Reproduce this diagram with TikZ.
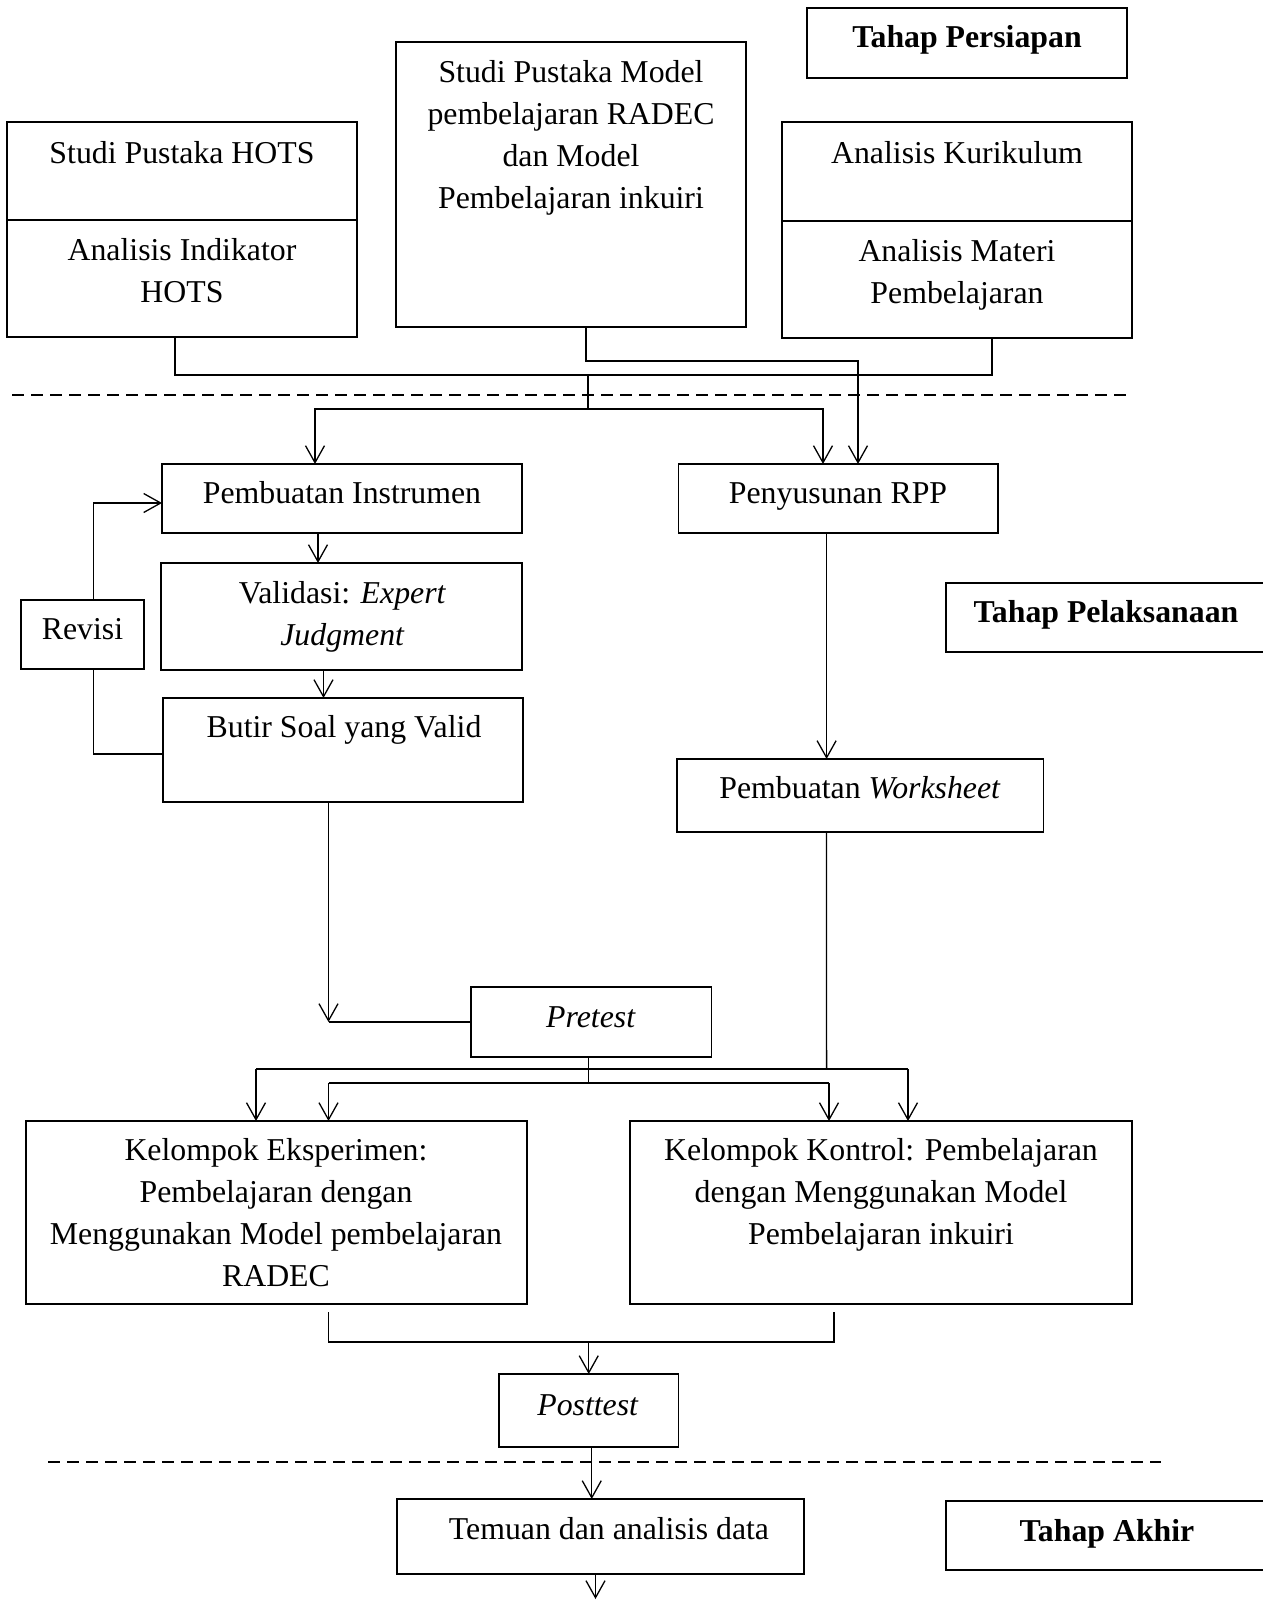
\documentclass[tikz,border=0pt]{standalone}
\usepackage{fontspec}
\setmainfont{Liberation Serif}
\usetikzlibrary{arrows.meta,calc}
\newcommand\fsz{\fontsize{31.8}{42}\selectfont}
\begin{document}
\begin{tikzpicture}[x=1pt,y=-1pt,
  bx/.style={draw, line width=1.3pt, inner sep=0pt, outer sep=0pt, anchor=north west},
  tx/.style={font=\fsz, inner sep=0pt, align=center, anchor=base},
  mtx/.style={font=\fsz, inner sep=0pt, align=center, anchor=north},
  ln/.style={line width=1.3pt},
  arr/.style={line width=1.3pt, -{Straight Barb[length=17pt,width=19pt,line width=1.3pt]}},
  dsh/.style={line width=1.3pt, dash pattern=on 12pt off 7pt}]
\useasboundingbox[fill=white] (0,0) rectangle (1262,1600);

% ---------- Tahap Persiapan ----------
\node[bx, minimum width=320, minimum height=70] (persiapan) at (807,8) {};
\node[tx, font=\fsz\bfseries] (tpersiapan) at (967,48) {Tahap Persiapan};

\node[bx, minimum width=350, minimum height=98] (hotsA) at (7,122) {};
\node[bx, minimum width=350, minimum height=117] (hotsB) at (7,220) {};
\node[tx] (thotsA) at (182,163) {Studi Pustaka HOTS};
\node[mtx] (thotsB) at (182,230.6) {\strut Analisis Indikator\\HOTS};

\node[bx, minimum width=350, minimum height=285] (radec) at (396,42) {};
\node[mtx] (tradec) at (571,52.6) {\strut Studi Pustaka Model\\pembelajaran RADEC\\dan Model\\Pembelajaran inkuiri};

\node[bx, minimum width=350, minimum height=99] (kurA) at (782,122) {};
\node[bx, minimum width=350, minimum height=117] (kurB) at (782,221) {};
\node[tx] (tkurA) at (957,163) {Analisis Kurikulum};
\node[mtx] (tkurB) at (957,231.6) {\strut Analisis Materi\\Pembelajaran};

% ---------- Tahap Pelaksanaan ----------
\node[bx, minimum width=360, minimum height=69] (pi) at (162,464) {};
\node[tx] (tpi) at (342,503) {Pembuatan Instrumen};

\node[bx, minimum width=361, minimum height=107] (val) at (161,563) {};
\node[mtx] (tval) at (342.5,573.6) {\strut Validasi: \textit{Expert}\\\textit{Judgment}};

\node[bx, minimum width=360, minimum height=104] (but) at (163,698) {};
\node[tx] (tbut) at (344,737) {Butir Soal yang Valid};

\node[bx, minimum width=123, minimum height=69] (rev) at (21,600) {};
\node[tx] (trev) at (82.5,639) {Revisi};

\node[bx, minimum width=319.5, minimum height=69] (rpp) at (678.5,464) {};
\node[tx] (trpp) at (838,503) {Penyusunan RPP};

\node[bx, minimum width=366.5, minimum height=73] (ws) at (677,759) {};
\node[tx] (tws) at (860,798) {Pembuatan \textit{Worksheet}};

\node[bx, minimum width=340, minimum height=69] (pelaksanaan) at (946,583) {};
\node[tx, font=\fsz\bfseries] (tpelaksanaan) at (1106,622) {Tahap Pelaksanaan};

\node[bx, minimum width=240.5, minimum height=70] (pre) at (471,987) {};
\node[tx] (tpre) at (591,1027) {\textit{Pretest}};

\node[bx, minimum width=501, minimum height=183] (eks) at (26,1121) {};
\node[mtx] (teks) at (276,1130.6) {\strut Kelompok Eksperimen:\\Pembelajaran dengan\\Menggunakan Model pembelajaran\\RADEC};

\node[bx, minimum width=502, minimum height=183] (kon) at (630,1121) {};
\node[mtx] (tkon) at (881,1130.6) {\strut Kelompok Kontrol: Pembelajaran\\dengan Menggunakan Model\\Pembelajaran inkuiri};

\node[bx, minimum width=179.5, minimum height=73] (post) at (499,1374) {};
\node[tx] (tpost) at (588,1415) {\textit{Posttest}};

% ---------- Tahap Akhir ----------
\node[bx, minimum width=407, minimum height=75] (tem) at (397,1499) {};
\node[tx] (ttem) at (609,1539) {Temuan dan analisis data};

\node[bx, minimum width=340, minimum height=69] (akhir) at (946,1501) {};
\node[tx, font=\fsz\bfseries] (takhir) at (1107,1541) {Tahap Akhir};

% ---------- dashed separators ----------
\coordinate (s1a) at (12,395);
\coordinate (s1b) at (1126,395);
\draw[dsh] (s1a) -- (s1b);
\coordinate (s2a) at (48,1462);
\coordinate (s2b) at (1161,1462);
\draw[dsh] (s2a) -- (s2b);

% ---------- connectors, top ----------
\draw[ln] ([xshift=-7]hotsB.south) -- ++(0,38) -| ([xshift=35]kurB.south);
\coordinate (j1) at (588,375);
\coordinate (j2) at (588,409);
\draw[ln] (j1) -- (j2);
\draw[arr] (j2) -| ([xshift=-27]pi.north);
\draw[arr] (j2) -| ([xshift=-15.25]rpp.north);
\draw[arr] ([xshift=15]radec.south) -- ++(0,34) -| ([xshift=19.75]rpp.north);

% ---------- instrument column ----------
\draw[arr] ([xshift=-24]pi.south) -- ([xshift=-24]pi.south |- val.north);
\draw[arr] ([xshift=-18]val.south) -- ([xshift=-18]val.south |- but.north);
\draw[arr] ([xshift=11]rev.north) |- ([yshift=-4.5]pi.west);
\draw[ln] ([xshift=11]rev.south) |- ([yshift=-4]but.west);
\coordinate (pj) at (328.5,1022);
\draw[arr] ([xshift=-14.5]but.south) -- (pj);
\draw[ln] (pre.west) -- (pre.west -| pj);

% ---------- RPP column ----------
\draw[arr] ([xshift=-11.65]rpp.south) -- ([xshift=-11.65]rpp.south |- ws.north);
\coordinate (wj) at (826.6,1069);
\draw[ln] ([xshift=-33.8]ws.south) -- (wj);

% ---------- distribution to groups ----------
\coordinate (d1) at (256,1069);
\coordinate (d2) at (908,1069);
\draw[ln] (d1) -- (d2);
\draw[arr] (d1) -- (d1 |- eks.north);
\draw[arr] (d2) -- (d2 |- kon.north);
\coordinate (e1) at (328.5,1083);
\coordinate (e2) at (829,1083);
\draw[ln] ([xshift=-3]pre.south) -- ([xshift=-3]pre.south |- e1);
\draw[ln] (e1) -- (e2);
\draw[arr] (e1) -- (e1 |- eks.north);
\draw[arr] (e2) -- (e2 |- kon.north);

% ---------- to posttest ----------
\coordinate (g1) at (328.5,1312);
\coordinate (g2) at (834,1312);
\coordinate (f1) at (328.5,1342);
\coordinate (f2) at (834,1342);
\draw[ln] (g1) -- (f1) -- (f2) -- (g2);
\draw[arr] (f1 -| post.north) -- (post.north);
\draw[arr] ([xshift=3]post.south) -- ([xshift=3]post.south |- tem.north);
\coordinate (out) at (595.5,1599);
\draw[arr] ([xshift=-5]tem.south) -- (out);
\end{tikzpicture}
\end{document}
